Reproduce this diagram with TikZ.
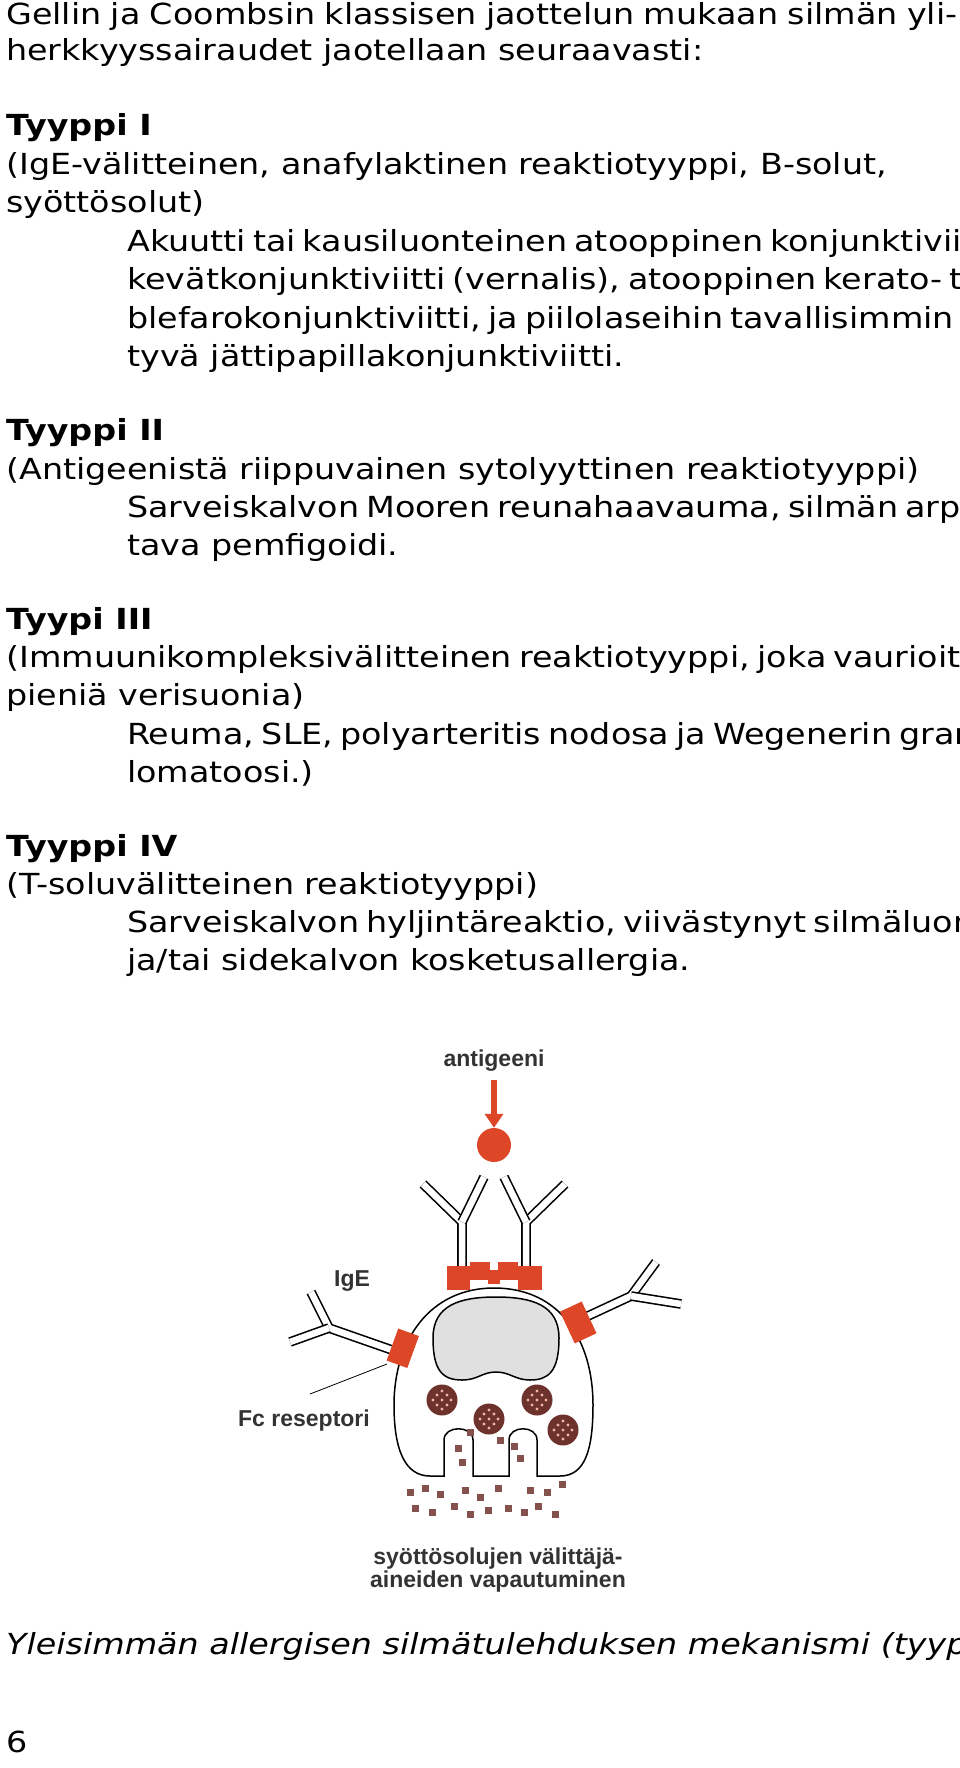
\documentclass[tikz,border=0pt]{standalone}
\usepackage{fontspec}
\setmainfont{DejaVu Sans}[FakeStretch=1.15]
\newfontfamily\figfont{Liberation Sans}
\usetikzlibrary{arrows.meta,calc}
\definecolor{recred}{RGB}{222,70,40}
\definecolor{granule}{RGB}{110,50,45}
\tikzset{
  line/.style={anchor=base west, inner sep=0pt, font=\fontsize{29}{34}\selectfont},
  head/.style={line, font=\fontsize{29}{34}\selectfont\bfseries},
  figlabel/.style={font=\figfont\fontsize{23}{25}\selectfont\bfseries, text=black!80, align=center, inner sep=0pt},
  antibody/.style={double=white, double distance=6.5pt, line width=1.6pt, line join=round},
  receptor/.style={fill=recred, draw=none},
  biggran/.style={circle, fill=granule, minimum size=31pt, inner sep=0pt},
  smallgran/.style={fill=granule!85, minimum size=7pt, inner sep=0pt}
}
\newcommand{\full}[1]{\makebox[951pt][s]{#1}}
\newcommand{\fullin}[1]{\makebox[830pt][s]{#1}}
\begin{document}
\begin{tikzpicture}[x=1pt, y=-1pt]
    \useasboundingbox (0,0) rectangle (960,1768);

    % Text
    \node[line] (l1) at (6,25) {\full{Gellin ja Coombsin klassisen jaottelun mukaan silmän yli-}};
    \node[line] (l2) at (6,61) {herkkyyssairaudet jaotellaan seuraavasti:};

    \node[head] (h1) at (6,136) {Tyyppi I};
    \node[line] (l3) at (6,175) {(IgE-välitteinen, anafylaktinen reaktiotyyppi, B-solut,};
    \node[line] (l4) at (6,213) {syöttösolut)};
    \node[line] (l5) at (127,252) {\fullin{Akuutti tai kausiluonteinen atooppinen konjunktiviitti,}};
    \node[line] (l6) at (127,290) {\fullin{kevätkonjunktiviitti (vernalis), atooppinen kerato- tai}};
    \node[line] (l7) at (127,328) {\fullin{blefarokonjunktiviitti, ja piilolaseihin tavallisimmin liit-}};
    \node[line] (l8) at (127,366) {tyvä jättipapillakonjunktiviitti.};

    \node[head] (h2) at (6,440) {Tyyppi II};
    \node[line] (l9) at (6,479) {(Antigeenistä riippuvainen sytolyyttinen reaktiotyyppi)};
    \node[line] (l10) at (127,517) {\fullin{Sarveiskalvon Mooren reunahaavauma, silmän arpeut-}};
    \node[line] (l11) at (127,555) {tava pemfigoidi.};

    \node[head] (h3) at (6,629) {Tyypi III};
    \node[line] (l12) at (6,667) {\full{(Immuunikompleksivälitteinen reaktiotyyppi, joka vaurioittaa}};
    \node[line] (l13) at (6,705) {pieniä verisuonia)};
    \node[line] (l14) at (127,744) {\fullin{Reuma, SLE, polyarteritis nodosa ja Wegenerin granu-}};
    \node[line] (l15) at (127,782) {lomatoosi.)};

    \node[head] (h4) at (6,856) {Tyyppi IV};
    \node[line] (l16) at (6,894) {(T-soluvälitteinen reaktiotyyppi)};
    \node[line] (l17) at (127,932) {\fullin{Sarveiskalvon hyljintäreaktio, viivästynyt silmäluomien}};
    \node[line] (l18) at (127,970) {ja/tai sidekalvon kosketusallergia.};

    % Figure
    \node[figlabel] (antigen) at (494,1061) {antigeeni};
    \node[circle, fill=recred, minimum size=34pt, inner sep=0pt] (dot) at (494,1145) {};
    \draw[recred, line width=6pt, -{Triangle[length=14pt, width=18pt]}] (antigen.south) ++(0,8) coordinate (a0) -- (dot.north);

    % cell and nucleus
    \draw[line width=1.5pt, fill=white] (494,1288)
        .. controls (430,1288) and (394,1340) .. (394,1405)
        .. controls (394,1450) and (405,1476) .. (430,1476)
        -- (444,1476) -- (444,1440) .. controls (444,1425) and (473,1425) .. (473,1440) -- (473,1476)
        -- (509,1476) -- (509,1440) .. controls (509,1425) and (537,1425) .. (537,1440) -- (537,1476)
        -- (560,1476) .. controls (585,1476) and (593,1450) .. (593,1405)
        .. controls (593,1340) and (560,1288) .. cycle;
    \draw[line width=1.5pt, fill=black!12] (433,1338)
        .. controls (433,1305) and (460,1297) .. (496,1297)
        .. controls (532,1297) and (559,1305) .. (559,1338)
        .. controls (559,1372) and (548,1380) .. (530,1380)
        .. controls (515,1380) and (510,1372) .. (496,1372)
        .. controls (482,1372) and (478,1380) .. (462,1380)
        .. controls (442,1380) and (433,1370) .. cycle;
    \node[biggran] (g1) at (442,1400) {};
    \node[biggran] (g2) at (537,1400) {};
    \node[biggran] (g3) at (489,1419) {};
    \node[biggran] (g4) at (563,1430) {};
    \foreach \g in {g1,g2,g3,g4}
        \foreach \dx/\dy in {-5/-5,5/-5,-5/5,5/5,0/0,0/-9,0/9,-9/0,9/0}
            \fill[recred!40] ($(\g)+(\dx,\dy)$) circle (1.7pt);
    \foreach \x/\y [count=\i] in {458/1448,462/1462,470/1432,500/1440,514/1446,520/1458,
        410/1492,425/1488,440/1494,465/1490,480/1497,498/1488,530/1490,547/1492,562/1484,
        415/1508,432/1512,454/1506,470/1514,488/1510,508/1508,524/1512,538/1506,555/1514}
        \node[smallgran] (s\i) at (\x,\y) {};

    % antibodies
    \draw[antibody] (462,1278) -- (462,1222) -- (423,1184);
    \draw[antibody] (462,1222) -- (484,1177);
    \draw[antibody] (526,1278) -- (526,1222) -- (565,1184);
    \draw[antibody] (526,1222) -- (504,1177);
    \draw[antibody] (392,1350) -- (329,1328) -- (311,1292);
    \draw[antibody] (329,1328) -- (290,1342);
    \draw[antibody] (575,1322) -- (631,1296) -- (656,1262);
    \draw[antibody] (631,1296) -- (681,1304);

    % receptors
    \fill[receptor] (447,1266) rectangle (470,1290);
    \fill[receptor] (470,1262) rectangle (490,1280);
    \fill[receptor] (498,1262) rectangle (518,1280);
    \fill[receptor] (518,1266) rectangle (542,1290);
    \fill[receptor] (488,1270) rectangle (500,1284);
    \fill[receptor, rotate around={-20:(405,1348)}] (392,1332) rectangle (414,1366);
    \fill[receptor, rotate around={25:(578,1322)}] (566,1305) rectangle (590,1340);

    % labels
    \node[figlabel] (ige) at (352,1281) {IgE};
    \node[figlabel] (fc) at (304,1421) {Fc reseptori};
    \coordinate (fcend) at (387,1364);
    \draw[line width=0.8pt] (310,1394) -- (fcend);
    \node[figlabel] (release) at (498,1570) {syöttösolujen välittäjä-\\[-2pt]aineiden vapautuminen};

    % caption
    \node[line, font=\fontsize{29}{34}\selectfont\itshape] (cap) at (6,1654) {Yleisimmän allergisen silmätulehduksen mekanismi (tyyppi I)};
    \node[line] (page) at (6,1752) {6};
\end{tikzpicture}
\end{document}
